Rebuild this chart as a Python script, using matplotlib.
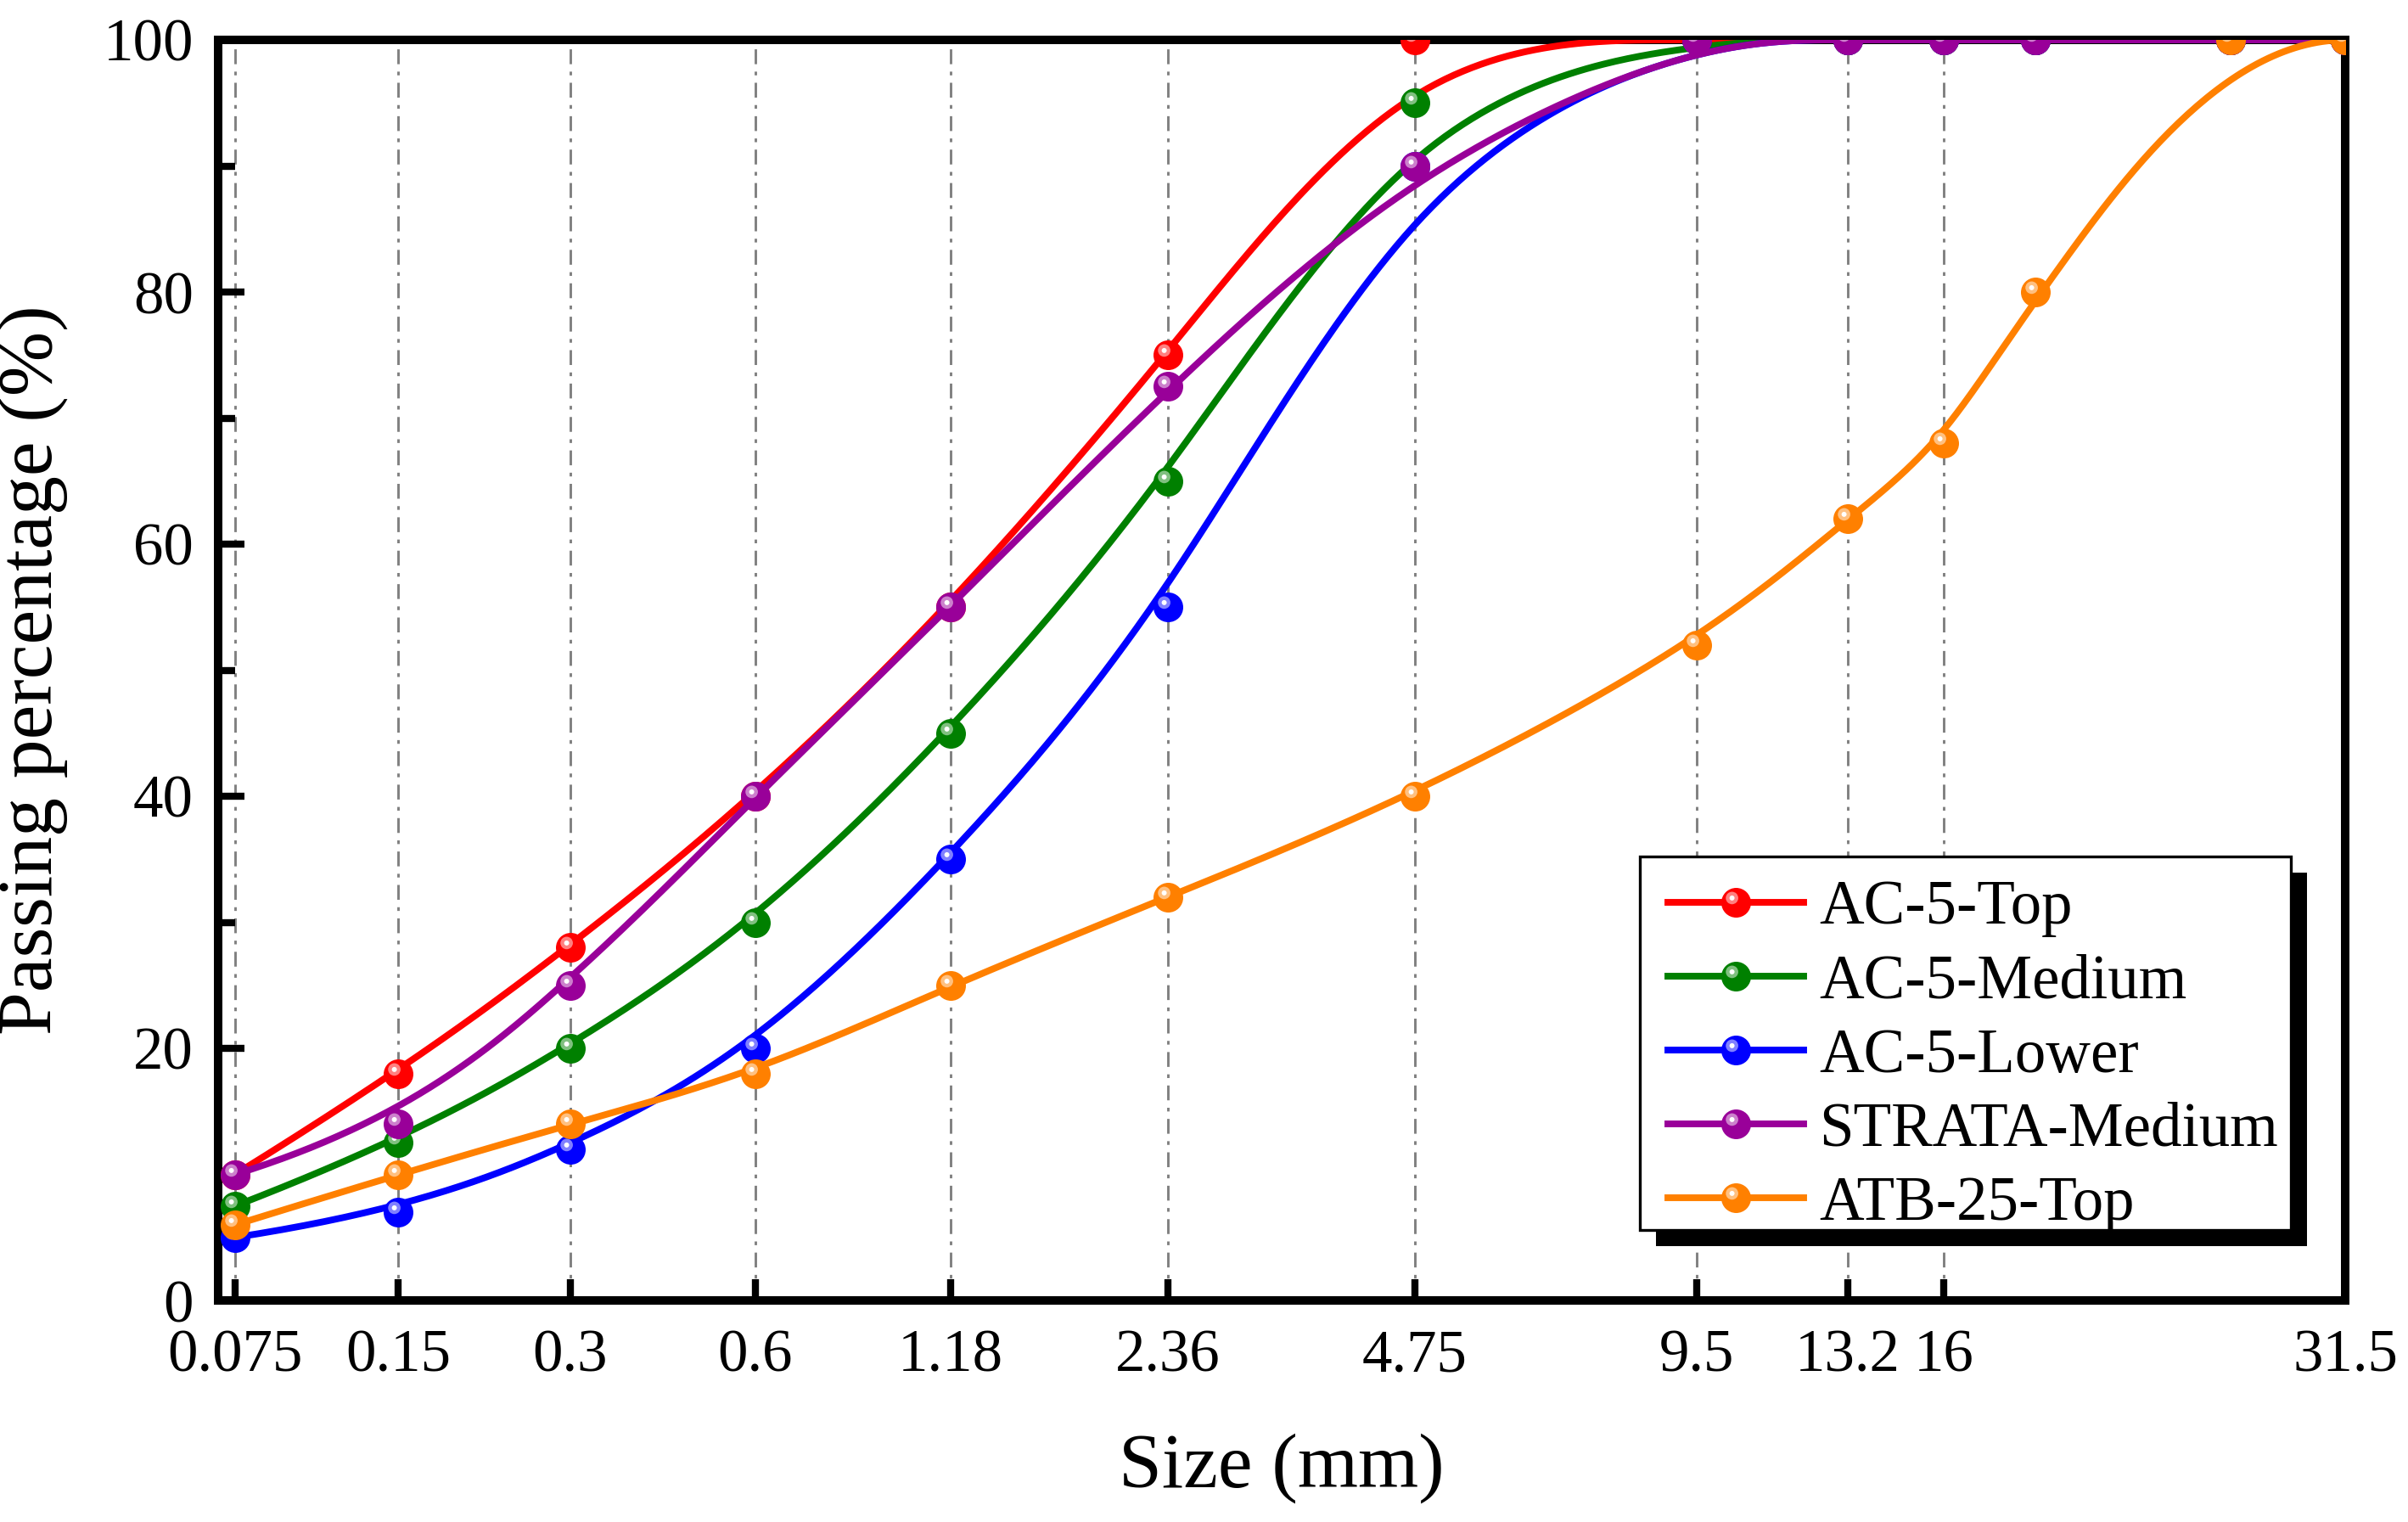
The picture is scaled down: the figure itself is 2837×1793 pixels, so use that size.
import numpy as np
import matplotlib
matplotlib.use("Agg")
import matplotlib.pyplot as plt
from matplotlib.path import Path
from matplotlib.patches import Rectangle
from matplotlib.legend_handler import HandlerTuple
from matplotlib import patheffects
from matplotlib.ticker import MultipleLocator, NullLocator
from matplotlib.colors import to_rgb

plt.rcParams['font.family'] = ['Liberation Serif', 'DejaVu Serif']

# sieve sizes (mm) and passing percentages
sizes = [0.075, 0.15, 0.3, 0.6, 1.18, 2.36, 4.75, 9.5, 13.2, 16, 19, 26.5, 31.5]
tick_sizes = [0.075, 0.15, 0.3, 0.6, 1.18, 2.36, 4.75, 9.5, 13.2, 16, 31.5]
tick_labels = ['0.075', '0.15', '0.3', '0.6', '1.18', '2.36', '4.75', '9.5', '13.2', '16', '31.5']

ac5_top = [10, 18, 28, 40, 55, 75, 100, 100, 100, 100, 100, 100, 100]
ac5_medium = [7.5, 12.5, 20, 30, 45, 65, 95, 100, 100, 100, 100, 100, 100]
ac5_lower = [5, 7, 12, 20, 35, 55, 90, 100, 100, 100, 100, 100, 100]
strata_medium = [10, 14, 25, 40, 55, 72.5, 90, 100, 100, 100, 100, 100, 100]
atb25_top = [6, 10, 14, 18, 25, 32, 40, 52, 62, 68, 80, 100, 100]

names = ['AC-5-Top', 'AC-5-Medium', 'AC-5-Lower', 'STRATA-Medium', 'ATB-25-Top']
colors = ['#ff0000', '#008000', '#0000ff', '#990099', '#ff8000']

# the x axis is a sieve axis: each sieve sits at a fixed place (in pixels of the original)
sieve_pos = np.array([277, 469, 672, 890, 1120, 1376, 1667, 1999, 2177, 2290, 2398, 2628, 2763], float)
lx = np.log(sizes)
s_lo = (sieve_pos[1] - sieve_pos[0]) / (lx[1] - lx[0])
s_hi = (sieve_pos[-1] - sieve_pos[-2]) / (lx[-1] - lx[-2])


def fwd(x):
    l = np.log(np.clip(np.asarray(x, float), 1e-6, None))
    p = np.interp(l, lx, sieve_pos)
    p = np.where(l < lx[0], sieve_pos[0] + (l - lx[0]) * s_lo, p)
    p = np.where(l > lx[-1], sieve_pos[-1] + (l - lx[-1]) * s_hi, p)
    return p


def inv(p):
    p = np.asarray(p, float)
    l = np.interp(p, sieve_pos, lx)
    l = np.where(p < sieve_pos[0], lx[0] + (p - sieve_pos[0]) / s_lo, l)
    l = np.where(p > sieve_pos[-1], lx[-1] + (p - sieve_pos[-1]) / s_hi, l)
    return np.exp(l)


def bspline(px, py, num=600):
    # clamped cubic B-spline, data used as control points (like Origin's B-spline connect)
    P = np.column_stack([px, py])
    n, k = len(P), 3
    knots = np.concatenate([np.zeros(k), np.arange(n - k + 1), np.full(k, n - k)]).astype(float)
    t = np.linspace(0, n - k, num)
    N = np.array([(knots[i] <= t) & (t < knots[i + 1]) for i in range(len(knots) - 1)], float)
    N[n - 1, -1] = 1.0
    for p in range(1, k + 1):
        Nn = np.zeros((len(knots) - 1 - p, len(t)))
        for i in range(len(knots) - 1 - p):
            d1 = knots[i + p] - knots[i]
            d2 = knots[i + p + 1] - knots[i + 1]
            a = (t - knots[i]) / d1 * N[i] if d1 > 0 else 0
            b = (knots[i + p + 1] - t) / d2 * N[i + 1] if d2 > 0 else 0
            Nn[i] = a + b
        N = Nn
    C = N.T @ P
    return C[:, 0], C[:, 1]


def spot(r, cx=-0.28, cy=0.32):
    frame = Path([(-1, -1), (1, 1)], [Path.MOVETO, Path.MOVETO])
    return Path.make_compound_path(frame, Path.circle((cx, cy), r))


def lighter(c, f):
    c = np.array(to_rgb(c))
    return tuple(c + (1 - c) * f)


fig = plt.figure(figsize=(2837 / 300, 1793 / 300), dpi=300)
ax = fig.add_axes([257 / 2837, 1 - 1532 / 1793, (2763 - 257) / 2837, (1532 - 47) / 1793])
ax.set_xscale('function', functions=(fwd, inv))

series = [ac5_top, ac5_medium, ac5_lower, strata_medium, atb25_top]
ms = 8.4
lw = 1.9
handles = []
for vals, name, col in zip(series, names, colors):
    cx, cy = bspline(fwd(sizes), vals)
    ax.plot(inv(cx), cy, color=col, lw=lw, zorder=3)
    base, = ax.plot(sizes, vals, ls='none', marker='o', ms=ms, mfc=col, mec=col, mew=0, zorder=3)
    ring, = ax.plot(sizes, vals, ls='none', marker=spot(0.42), ms=ms, mfc=lighter(col, 0.5), mew=0, zorder=3)
    dot, = ax.plot(sizes, vals, ls='none', marker=spot(0.17), ms=ms, mfc='white', mew=0, zorder=3)
    lh = plt.Line2D([], [], color=col, lw=lw, marker='o', ms=ms, mfc=col, mew=0)
    handles.append((lh, ring, dot))

ax.set_xlim(inv(257), 31.5)
ax.set_ylim(0, 100)
ax.set_xticks(tick_sizes, tick_labels)
ax.xaxis.set_minor_locator(NullLocator())
ax.yaxis.set_major_locator(MultipleLocator(20))
ax.yaxis.set_minor_locator(MultipleLocator(10))

ax.grid(axis='x', which='major', color='#808080', lw=0.7, ls=(0, (6, 3, 1.5, 3)), zorder=0)
ax.set_axisbelow(True)

for s in ax.spines.values():
    s.set_linewidth(2.4)
ax.tick_params(axis='both', which='both', direction='in', top=False, right=False, width=2.0)
ax.tick_params(axis='x', which='major', length=6, labelsize=17, pad=8)
ax.tick_params(axis='y', which='major', length=7.4, labelsize=17, pad=7)
ax.tick_params(axis='y', which='minor', length=4.8)

ax.set_xlabel('Size (mm)', fontsize=22, labelpad=14)
ax.set_ylabel('Passing percentage (%)', fontsize=22, labelpad=10)

# legend box with a solid black drop shadow
box = Rectangle((0.6684, 0.0559), 0.3061, 0.2963, transform=ax.transAxes,
                facecolor='white', edgecolor='black', lw=0.8, zorder=4, clip_on=False)
box.set_path_effects([
    patheffects.SimplePatchShadow(offset=(4.6, -4.6), shadow_rgbFace='black', alpha=1),
    patheffects.Normal()])
ax.add_patch(box)

leg = ax.legend(handles, names, handler_map={tuple: HandlerTuple(ndivide=1, pad=0)},
                loc='upper left', bbox_to_anchor=(0.6684, 0.3556), borderaxespad=0,
                fontsize=17.5, handlelength=2.2, handletextpad=0.25, labelspacing=0.27,
                borderpad=0.45, frameon=False)
leg.set_zorder(5)

fig.savefig('out.png', dpi=300)
